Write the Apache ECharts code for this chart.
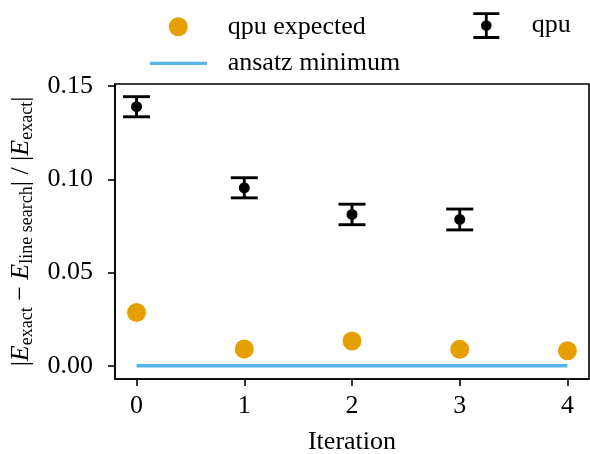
<!DOCTYPE html>
<html><head><meta charset="utf-8">
<script src="https://cdn.jsdelivr.net/npm/echarts@6/dist/echarts.min.js"></script>
<style>html,body{margin:0;padding:0;background:#fff}#c{width:590px;height:454px}</style>
</head><body><div id="c"></div>
<script>
const iterations = [0, 1, 2, 3, 4];
const qpuExpected = [0.0286, 0.0090, 0.0133, 0.0088, 0.0081];
const qpuIterations = [0, 1, 2, 3];
const qpuValues = [0.1390, 0.0955, 0.0812, 0.0785];
const qpuErrors = [0.0054, 0.0054, 0.0055, 0.0056];
const ansatzMinimum = [0, 0, 0, 0, 0];
const xTicks = [0, 1, 2, 3, 4];
const yTicks = [0, 0.05, 0.10, 0.15];

const FONT = 'Liberation Serif';
const ORANGE = '#E69F00';
const BLUE = '#56B4E9';

const chart = echarts.init(document.getElementById('c'), null, {renderer: 'canvas'});

const errIcon = 'path://M0,0H26V2.8H0Z M11.6,2.8H14.4V23.8H11.6Z M0,23.8H26V26.6H0Z M7.7,13.3a5.3,5.3 0 1,1 10.6,0a5.3,5.3 0 1,1 -10.6,0Z';

const legendText = (pad) => ({fontFamily: FONT, fontSize: 26, color: '#000', padding: [0, 0, 0, pad]});

const option = {
  backgroundColor: '#fff',
  animation: false,
  textStyle: {fontFamily: FONT},
  grid: {left: 115, right: 1, top: 84, bottom: 75, show: true, borderColor: '#000', borderWidth: 1.6,
         backgroundColor: 'transparent', outerBoundsMode: 'none', containLabel: false},
  legend: [
    {left: 168.8, top: 13.7, padding: 0, itemWidth: 19, itemHeight: 19, textStyle: legendText(35),
     data: [{name: 'qpu expected', icon: 'circle', itemStyle: {color: ORANGE}}]},
    {left: 150, top: 50.3, padding: 0, itemWidth: 57, itemHeight: 3.3, textStyle: legendText(15.7),
     data: [{name: 'ansatz minimum', icon: 'rect', itemStyle: {color: BLUE}}]},
    {left: 473.3, top: 12.3, padding: 0, itemWidth: 26, itemHeight: 26.6, textStyle: legendText(27.4),
     data: [{name: 'qpu', icon: errIcon, itemStyle: {color: '#000'}}]}
  ],
  xAxis: {
    type: 'value', min: -0.2, max: 4.2,
    name: 'Iteration', nameLocation: 'middle', nameGap: 50,
    nameTextStyle: {fontFamily: FONT, fontSize: 26, color: '#000'},
    axisLine: {show: true, onZero: false, lineStyle: {color: '#000', width: 1.6}},
    axisTick: {show: true, inside: false, length: 7, customValues: xTicks, lineStyle: {color: '#000', width: 1.6}},
    axisLabel: {show: true, margin: 14, customValues: xTicks, fontFamily: FONT, fontSize: 26, color: '#000',
      formatter: v => String(v)},
    splitLine: {show: false}
  },
  yAxis: {
    type: 'value', min: -0.0071, max: 0.1512,
    name: '{n||}{i|E}{s|exact}{n| − }{i|E}{s|line search}{n|| / |}{i|E}{s|exact}{n||}',
    nameLocation: 'middle', nameRotate: 90, nameGap: 69,
    nameTextStyle: {
      fontFamily: FONT, fontSize: 26, color: '#000',
      rich: {
        n: {fontFamily: FONT, fontSize: 26, lineHeight: 30, verticalAlign: 'middle', color: '#000'},
        i: {fontFamily: FONT, fontSize: 26, fontStyle: 'italic', lineHeight: 30, verticalAlign: 'middle', color: '#000'},
        s: {fontFamily: FONT, fontSize: 18, lineHeight: 18, verticalAlign: 'bottom', color: '#000'}
      }
    },
    axisLine: {show: true, onZero: false, lineStyle: {color: '#000', width: 1.6}},
    axisTick: {show: true, inside: false, length: 7, customValues: yTicks, lineStyle: {color: '#000', width: 1.6}},
    axisLabel: {show: true, margin: 22, customValues: yTicks, fontFamily: FONT, fontSize: 26, color: '#000',
      formatter: v => v.toFixed(2)},
    splitLine: {show: false}
  },
  series: [
    {
      name: 'ansatz minimum', type: 'line', symbol: 'none', z: 2,
      data: iterations.map((x, i) => [x, ansatzMinimum[i]]),
      lineStyle: {color: BLUE, width: 3.3}, itemStyle: {color: BLUE}
    },
    {
      name: 'qpu expected', type: 'scatter', symbol: 'circle', symbolSize: 19, z: 3,
      data: iterations.map((x, i) => [x, qpuExpected[i]]),
      itemStyle: {color: ORANGE, opacity: 1}
    },
    {
      name: 'qpu', type: 'custom', z: 4,
      data: qpuIterations.map((x, i) => [x, qpuValues[i], qpuErrors[i]]),
      encode: {x: 0, y: 1},
      itemStyle: {color: '#000'},
      renderItem: (params, api) => {
        const x = api.value(0), y = api.value(1), e = api.value(2);
        const top = api.coord([x, y + e]);
        const bot = api.coord([x, y - e]);
        const hw = 13.5;
        const style = {stroke: '#000', lineWidth: 2.9};
        return {type: 'group', children: [
          {type: 'line', shape: {x1: top[0], y1: top[1], x2: bot[0], y2: bot[1]}, style},
          {type: 'line', shape: {x1: top[0] - hw, y1: top[1], x2: top[0] + hw, y2: top[1]}, style},
          {type: 'line', shape: {x1: bot[0] - hw, y1: bot[1], x2: bot[0] + hw, y2: bot[1]}, style}
        ]};
      }
    },
    {
      name: 'qpu', type: 'scatter', symbol: 'circle', symbolSize: 11, z: 5,
      data: qpuIterations.map((x, i) => [x, qpuValues[i]]),
      itemStyle: {color: '#000', opacity: 1}
    }
  ]
};
chart.setOption(option);
</script>
</body></html>
